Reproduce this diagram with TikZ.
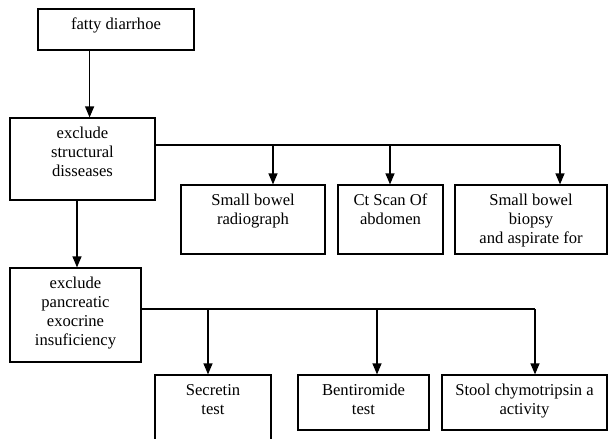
\documentclass[tikz,border=0pt]{standalone}
\usepackage{fontspec}
\setmainfont{Liberation Serif}
\usetikzlibrary{arrows.meta}
\tikzset{
  box/.style={draw, line width=1.2pt, inner sep=0pt, fill=none},
  txt/.style={inner sep=0pt, align=center, anchor=north, font=\fontsize{16.6}{19}\selectfont},
  ln/.style={line width=1.2pt},
  arr/.style={line width=1.2pt, -{Triangle[width=9pt,length=11pt]}}
}
\newcommand{\mybox}[6]{% name, x1, y1, x2, y2, text
  \node[box, minimum width={(#4-#2)*1pt}, minimum height={(#5-#3)*1pt}] (#1) at ({(#2+#4)/2},{(#3+#5)/2}) {};
  \node[txt] (#1-t) at ([yshift=-7.7pt]#1.north) {\strut #6};
}
\begin{document}
\begin{tikzpicture}[x=1pt, y=-1pt]
\useasboundingbox (0,0) rectangle (608,439);
\mybox{fatty}{38}{9}{194}{50}{fatty diarrhoe}
\mybox{struct}{10}{118}{155}{200}{exclude\\structural\\disseases}
\mybox{radio}{181}{185}{325}{254}{Small bowel\\radiograph}
\mybox{ct}{338}{185}{443}{254}{Ct Scan Of\\abdomen}
\mybox{biopsy}{455}{185}{607}{254}{Small bowel\\biopsy\\and aspirate for}
\mybox{panc}{10}{268}{141}{362}{exclude\\pancreatic\\exocrine\\insuficiency}
\mybox{secretin}{155}{375}{271}{470}{Secretin\\test}
\mybox{bent}{298}{375}{429}{430}{Bentiromide\\test}
\mybox{stool}{442}{375}{607}{430}{Stool chymotripsin a\\activity}
% vertical main arrows
\coordinate (j1) at (89.6,0);
\coordinate (j2) at (77,0);
\draw[arr] (fatty.south -| j1) -- (struct.north -| j1);
\draw[arr] (struct.south -| j2) -- (panc.north -| j2);
% first branch
\coordinate (h1) at (0,145);
\coordinate (d1) at (273,0);
\coordinate (d2) at (390,0);
\coordinate (d3) at (560,0);
\draw[ln] (struct.east |- h1) -- (d3 |- h1);
\draw[arr] (d1 |- h1) -- (radio.north -| d1);
\draw[arr] (d2 |- h1) -- (ct.north -| d2);
\draw[arr] (d3 |- h1) -- (biopsy.north -| d3);
% second branch
\coordinate (h2) at (0,309);
\coordinate (e1) at (208,0);
\coordinate (e2) at (377,0);
\coordinate (e3) at (535,0);
\draw[ln] (panc.east |- h2) -- (e3 |- h2);
\draw[arr] (e1 |- h2) -- (secretin.north -| e1);
\draw[arr] (e2 |- h2) -- (bent.north -| e2);
\draw[arr] (e3 |- h2) -- (stool.north -| e3);
\end{tikzpicture}
\end{document}
